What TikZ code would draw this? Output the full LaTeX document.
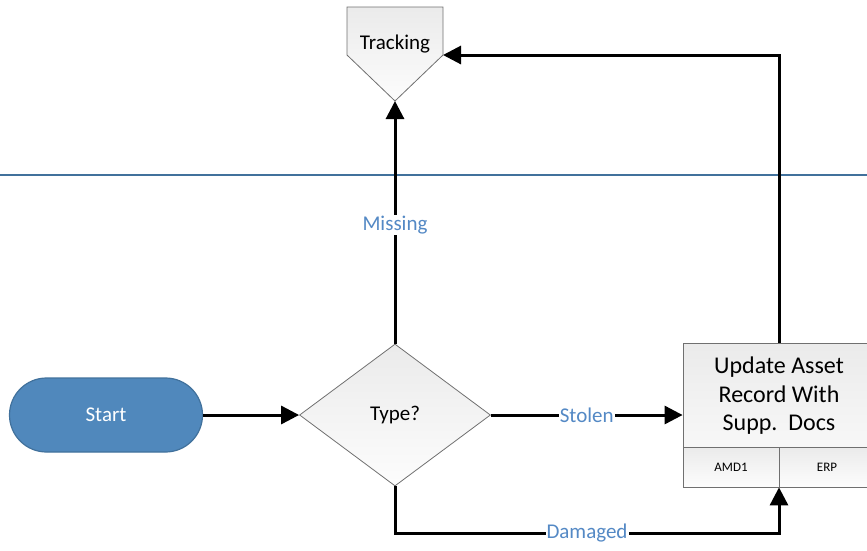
\documentclass[tikz,border=0pt]{standalone}
\usepackage{fontspec}
\setmainfont{Carlito}
\usetikzlibrary{arrows.meta,shapes.geometric}
\definecolor{startblue}{RGB}{80,136,188}
\definecolor{startedge}{RGB}{65,113,156}
\definecolor{lblblue}{RGB}{84,137,197}
\definecolor{shapeedge}{RGB}{112,112,112}

\begin{document}
\begin{tikzpicture}[x=1pt, y=-1pt, >={Triangle[length=18pt,width=18pt]},
  flow/.style={line width=3pt, ->},
  lbl/.style={fill=white, text=lblblue, font=\fontsize{21}{24}\selectfont, inner sep=1pt},
  shade/.style={draw=shapeedge, line width=0.8pt, top color=black!8, bottom color=black!1},
  terminal/.style={draw=startedge, line width=1.2pt, fill=startblue, text=white,
    rounded corners=37pt, minimum width=193pt, minimum height=74pt,
    font=\fontsize{21}{24}\selectfont},
  decide/.style={shade, diamond, minimum width=191pt, minimum height=142pt, inner sep=0pt,
    font=\fontsize{21}{24}\selectfont},
  cellbox/.style={shade, minimum width=96pt, minimum height=40pt, inner sep=0pt,
    font=\fontsize{13}{15}\selectfont}]
\useasboundingbox (0,0) rectangle (867,550);

\draw[startedge, line width=1.3pt] (0,175) -- (867,175);

\draw[shade] (347,7) -- (443,7) -- (443,55) -- (395,101) -- (347,55) -- cycle;
\node[font=\fontsize{21}{24}\selectfont] (track) at (395,44) {Tracking};
\coordinate (trackR) at (443,55);
\coordinate (trackB) at (395,101);

\node[terminal] (start) at (106,415) {Start};
\node[decide] (type) at (395,415) {Type?};

\node[shade, minimum width=192pt, minimum height=144pt] (upd) at (779,415) {};
\node[align=center, font=\fontsize{24}{28.5}\selectfont] (updtxt) at (779,396)
  {Update Asset\\Record With\\Supp.\ \ Docs};
\node[cellbox] (amd) at (731,467) {AMD1};
\node[cellbox] (erp) at (827,467) {ERP};

\draw[flow] (start) -- (type);
\draw[flow] (type) -- node[lbl, pos=0.49] {Missing} (trackB);
\draw[flow] (type) -- node[lbl] {Stolen} (upd);
\draw[flow] (type.south) -- ++(0,47) -| node[lbl, pos=0.25] {Damaged} (upd.south);
\draw[flow] (upd.north) |- (trackR);

\end{tikzpicture}
\end{document}
